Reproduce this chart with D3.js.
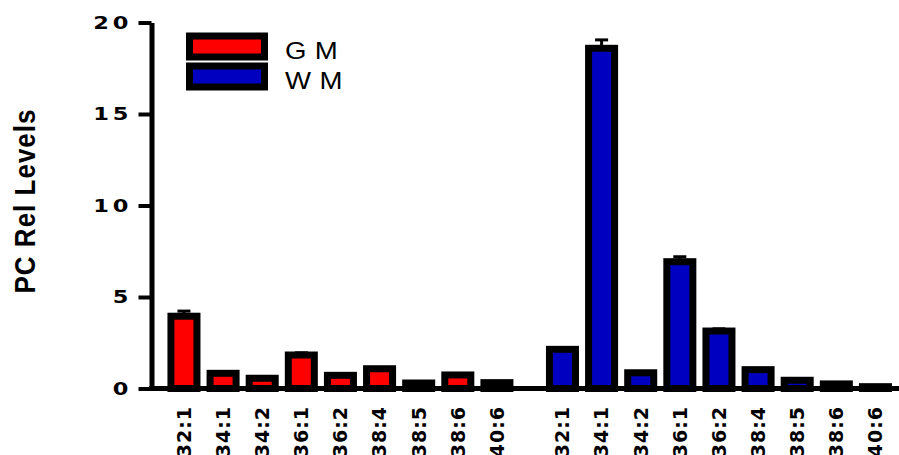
<!DOCTYPE html>
<html>
<head>
<meta charset="utf-8">
<script src="https://cdn.jsdelivr.net/npm/d3@7"></script>
<style>
  body { margin: 0; background: #fff; }
  svg { display: block; }
</style>
</head>
<body>
<svg id="chart" width="899" height="455"></svg>
<script>
// データ
const groups = ['GM', 'WM'];
const lipids = ['32:1', '34:1', '34:2', '36:1', '36:2', '38:4', '38:5', '38:6', '40:6'];
const gmValues = [3.95, 0.83, 0.56, 1.83, 0.72, 1.08, 0.30, 0.74, 0.32];
const gmErrors = [0.28, 0.05, 0.04, 0.12, 0.05, 0.06, 0.03, 0.05, 0.03];
const wmValues = [2.14, 18.59, 0.86, 6.93, 3.14, 1.03, 0.45, 0.25, 0.10];
const wmErrors = [0.08, 0.46, 0.05, 0.27, 0.12, 0.06, 0.04, 0.03, 0.02];
const yTicks = [0, 5, 10, 15, 20];
const colors = { GM: '#ff0000', WM: '#0000c0' };

const rows = [];
groups.forEach(g => {
  const vals = g === 'GM' ? gmValues : wmValues;
  const errs = g === 'GM' ? gmErrors : wmErrors;
  lipids.forEach((l, i) => rows.push({ group: g, lipid: l, value: vals[i], err: errs[i] }));
});

const svg = d3.select('#chart');

const y = d3.scaleLinear().domain([0, 20]).range([388.5, 22.5]);
const x0 = d3.scaleBand().domain(groups).range([164.4, 895]).paddingInner(0.0698);
const x1 = d3.scaleBand().domain(lipids).range([0, x0.bandwidth()])
  .paddingInner(0.335).paddingOuter(0.1675);
const cx = d => x0(d.group) + x1(d.lipid) + x1.bandwidth() / 2;

// 棒
svg.append('g')
  .selectAll('rect')
  .data(rows)
  .join('rect')
  .attr('x', d => x0(d.group) + x1(d.lipid))
  .attr('y', d => y(d.value))
  .attr('width', x1.bandwidth())
  .attr('height', d => y(0) - y(d.value))
  .attr('fill', d => colors[d.group])
  .attr('stroke', '#000')
  .attr('stroke-width', 7);

// エラーバー（上側のみ）
const eb = svg.append('g').attr('stroke', '#000');
eb.selectAll('line.v')
  .data(rows)
  .join('line')
  .attr('class', 'v')
  .attr('x1', cx).attr('x2', cx)
  .attr('y1', d => y(d.value)).attr('y2', d => y(d.value + d.err))
  .attr('stroke-width', 3);
eb.selectAll('line.cap')
  .data(rows)
  .join('line')
  .attr('class', 'cap')
  .attr('x1', d => cx(d) - 6.5).attr('x2', d => cx(d) + 6.5)
  .attr('y1', d => y(d.value + d.err)).attr('y2', d => y(d.value + d.err))
  .attr('stroke-width', 3);

// x軸の基線
svg.append('line')
  .attr('x1', 149).attr('x2', 899)
  .attr('y1', y(0)).attr('y2', y(0))
  .attr('stroke', '#000')
  .attr('stroke-width', 5);

// y軸
const yAxis = svg.append('g')
  .attr('transform', 'translate(151.5,0)')
  .call(d3.axisLeft(y).tickValues(yTicks).tickSize(13).tickSizeOuter(0));
yAxis.select('.domain').attr('stroke-width', 5);
yAxis.selectAll('.tick line').attr('stroke-width', 4);
// 元図の数字は横に引き伸ばされているので scaleX で合わせる
yAxis.selectAll('.tick text')
  .attr('x', -15.5)
  .attr('transform', 'scale(1.25,1)')
  .style('font-family', '"DejaVu Sans"')
  .style('font-weight', 'bold')
  .style('font-size', '18px')
  .style('letter-spacing', '3px')
  .attr('fill', '#000');

// x軸ラベル（縦書き）
svg.append('g')
  .selectAll('text')
  .data(rows)
  .join('text')
  .attr('transform', d => `translate(${cx(d)},406) rotate(-90)`)
  .attr('dy', '0.36em')
  .attr('text-anchor', 'end')
  .style('font-family', '"DejaVu Sans"')
  .style('font-weight', 'bold')
  .style('font-size', '19px')
  .style('letter-spacing', '1px')
  .text(d => d.lipid);

// y軸タイトル
svg.append('text')
  .attr('transform', 'translate(35,201) scale(1.1,1) rotate(-90)')
  .attr('text-anchor', 'middle')
  .style('font-family', '"Liberation Sans"')
  .style('font-weight', 'bold')
  .style('font-size', '26px')
  .style('letter-spacing', '1px')
  .text('PC Rel Levels');

// 凡例
const legend = svg.append('g');
groups.forEach((g, i) => {
  const top = 36 + i * 30;
  legend.append('rect')
    .attr('x', 189.5).attr('y', top)
    .attr('width', 75).attr('height', 21)
    .attr('fill', colors[g])
    .attr('stroke', '#000')
    .attr('stroke-width', 7);
  legend.append('text')
    .attr('transform', `translate(285,${top + 23}) scale(1.2,1)`)
    .style('font-family', '"Liberation Sans"')
    .style('font-size', '23px')
    .style('letter-spacing', '7px')
    .text(g);
});
</script>
</body>
</html>
